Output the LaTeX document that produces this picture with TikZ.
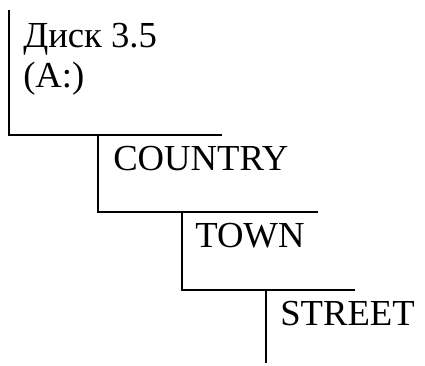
\documentclass[tikz,border=0pt]{standalone}
\usepackage{fontspec}
\setmainfont{Liberation Serif}
\begin{document}
\begin{tikzpicture}[x=0.75pt,y=-0.75pt,
  lbl/.style={anchor=base west,inner sep=0pt,font=\fontsize{27.5}{32}\selectfont},
  branch/.style={line width=1.6pt}]
\useasboundingbox (0,0) rectangle (425,365);
\node[lbl] (disk) at (23,47) {Диск 3.5};
\node[lbl] (drive) at (23,87) {(A:)};
\node[lbl] (country) at (113,170) {COUNTRY};
\node[lbl] (town) at (195,247) {TOWN};
\node[lbl] (street) at (280,325) {STREET};
\coordinate (a0) at (9,10);
\coordinate (a1) at (9,135);
\coordinate (a2) at (222,135);
\coordinate (b0) at (98,135);
\coordinate (b1) at (98,212);
\coordinate (b2) at (318,212);
\coordinate (c0) at (182,212);
\coordinate (c1) at (182,290);
\coordinate (c2) at (355,290);
\coordinate (d0) at (266,290);
\coordinate (d1) at (266,363);
\draw[branch] (a0) -- (a1) -- (a2);
\draw[branch] (b0) -- (b1) -- (b2);
\draw[branch] (c0) -- (c1) -- (c2);
\draw[branch] (d0) -- (d1);
\end{tikzpicture}
\end{document}
